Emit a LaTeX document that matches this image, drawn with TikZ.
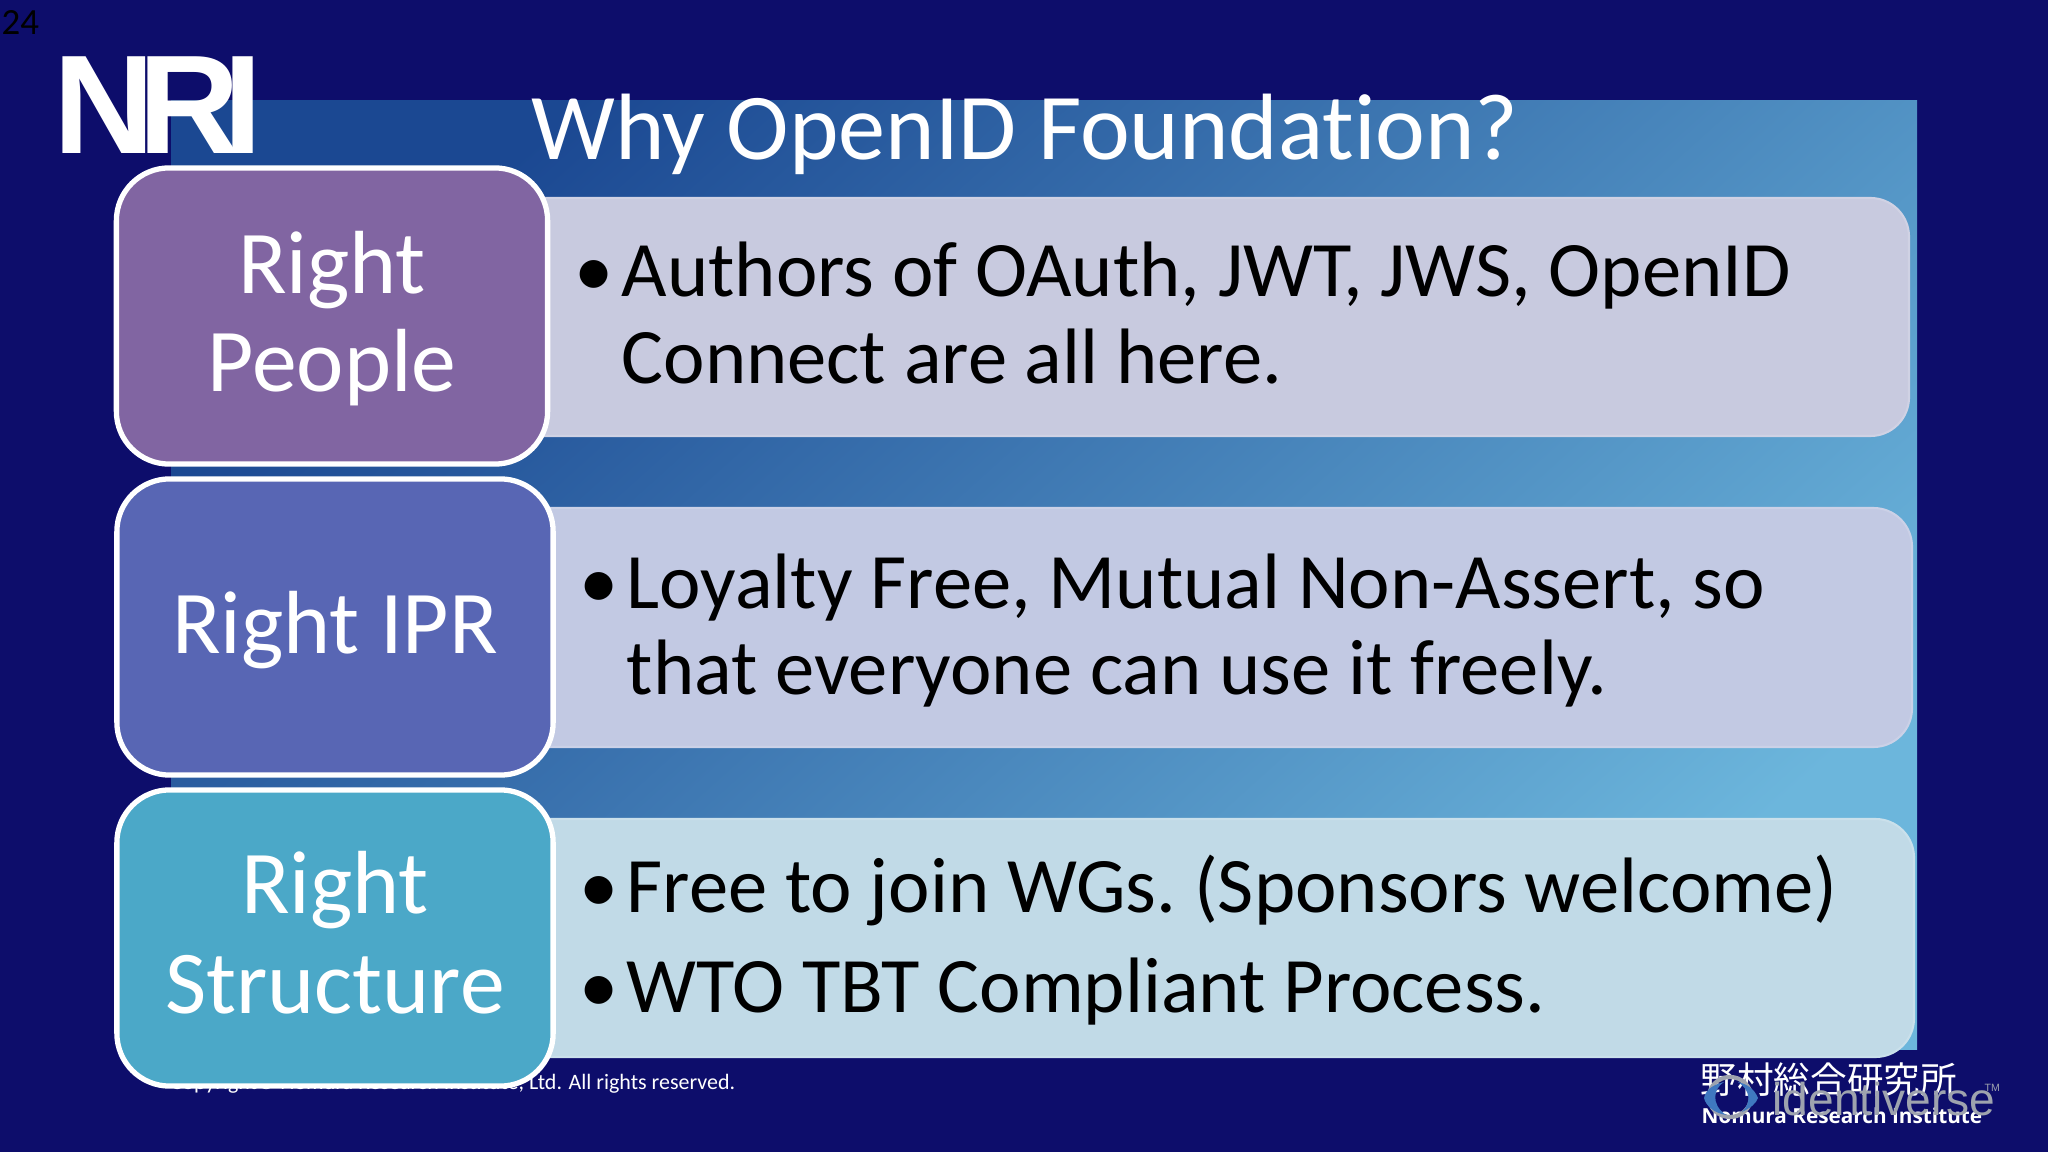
\documentclass[tikz,border=0pt]{standalone}
\usepackage{fontspec}
\setmainfont[Ligatures=NoCommon]{Carlito}
\newfontfamily\cjk{Noto Sans CJK JP}
\newfontfamily\logofont{Liberation Sans}
\newfontfamily\nrifont{Open Sans}
\usepackage{xcolor}
\definecolor{navy}{HTML}{0D0D6B}
\definecolor{bgleft}{HTML}{1B4892}
\definecolor{bgmid}{HTML}{3E7EBE}
\definecolor{bgright}{HTML}{6CB6DC}
\definecolor{peoplefill}{HTML}{8165A2}
\definecolor{iprfill}{HTML}{5866B4}
\definecolor{structfill}{HTML}{4BA8C8}
\definecolor{panelone}{HTML}{C8CADF}
\definecolor{paneltwo}{HTML}{C2C9E3}
\definecolor{panelthree}{HTML}{C1DAE7}
\definecolor{watermark}{HTML}{9EA3AE}
\definecolor{swoosh}{HTML}{3F78C0}
\tikzset{
  headbox/.style={draw=white,line width=1.5pt,rounded corners=15pt,align=center,text=white,inner sep=0pt,
    minimum height=2.96cm,font=\fontsize{25.5}{28}\selectfont},
  panel/.style={rounded corners=11pt,line width=.6pt},
  bodyline/.style={anchor=base west,inner sep=0pt,text=black,font=\fontsize{22.35}{26}\selectfont},
}
\begin{document}
\begin{tikzpicture}[x=0.01cm,y=-0.01cm]
  \useasboundingbox (0,0) rectangle (2048,1152);
  \fill[navy] (0,0) rectangle (2048,1152);
  \path[left color=bgleft,middle color=bgmid,right color=bgright,shading angle=42] (171,101) rectangle (1917,1049);

  \node (title) [anchor=base,inner sep=0pt,text=white,font=\fontsize{26.8}{30}\selectfont] at (1025,160) {Why OpenID Foundation?};
  \node (page) [anchor=base west,inner sep=0pt,text=black,font=\fontsize{10.5}{12}\selectfont] at (1,35) {24};
  \node (nri) [anchor=base west,inner sep=0pt,text=white,font=\fontsize{40}{40}\logofont\bfseries] at (53,154) {N\kern-.12em R\kern-.12em I};

  \node (copyright) [anchor=base west,inner sep=0pt,text=white,font=\fontsize{6.25}{7}\selectfont] at (170,1089) {Copyright© Nomura Research Institute, Ltd. All rights reserved.};

  % panels
  \fill[panel,panelone,draw=panelone!85!white] (480,198) -- (1909,198) -- (1909,436) -- (480,436) -- cycle;
  \fill[panel,paneltwo,draw=paneltwo!85!white] (480,508) -- (1912,508) -- (1912,747) -- (480,747) -- cycle;
  \fill[panel,panelthree,draw=panelthree!85!white] (480,819) -- (1914,819) -- (1914,1057) -- (480,1057) -- cycle;

  \node (people) [headbox,fill=peoplefill,minimum width=4.31cm] at (332,316) {\raisebox{0pt}[\dimexpr\height+1.5pt][\depth]{\shortstack{Right\\[3pt]People}}};
  \node (ipr) [headbox,fill=iprfill,minimum width=4.36cm] at (335,627) {\raisebox{0pt}[\dimexpr\height+1.5pt][\depth]{Right IPR}};
  \node (structure) [headbox,fill=structfill,minimum width=4.36cm] at (335,938) {\raisebox{0pt}[\height][\dimexpr\depth+3pt]{\shortstack{Right\\[4.3pt]Structure}}};

  \node (bulleta) [bodyline] at (574,297) {\textbullet};
  \node (linea) [bodyline] at (621,297) {Authors of OAuth, JWT, JWS, OpenID};
  \node (lineb) [bodyline] at (621,384) {Connect are all here.};
  \node (bulletb) [bodyline] at (579,608) {\textbullet};
  \node (linec) [bodyline] at (626,608) {Loyalty Free, Mutual Non-Assert, so};
  \node (lined) [bodyline] at (626,694) {that everyone can use it freely.};
  \node (bulletc) [bodyline] at (579,912) {\textbullet};
  \node (linee) [bodyline] at (626,912) {Free to join WGs.\ (Sponsors welcome)};
  \node (bulletd) [bodyline] at (579,1012) {\textbullet};
  \node (linef) [bodyline] at (626,1012) {WTO TBT Compliant Process.};

  \node (kanji) [anchor=base west,inner sep=0pt,text=white,font=\fontsize{10.4}{12}\cjk] at (1700,1093) {野村総合研究所};
  \node (nomura) [anchor=base west,inner sep=0pt,text=white,font=\fontsize{5.9}{7}\nrifont\bfseries] at (1701,1123) {Nomura Research Institute};

  % overlay
  \draw[watermark,line width=1.2pt] (1730,1097) ellipse (21 and 20);
  \fill[swoosh] (1704,1098) .. controls (1706,1088) and (1716,1084) .. (1724,1082) .. controls (1714,1088) and (1710,1104) .. (1726,1115) .. controls (1714,1113) and (1706,1106) .. (1704,1098) -- cycle;
  \fill[swoosh] (1758,1098) .. controls (1754,1088) and (1746,1084) .. (1738,1082) .. controls (1750,1090) and (1752,1102) .. (1742,1112) .. controls (1750,1108) and (1756,1104) .. (1758,1098) -- cycle;
  \node (identiverse) [anchor=base west,inner sep=0pt,text=watermark,font=\fontsize{13.1}{15}\logofont] at (1772,1115) {identiverse};
  \node (tm) [anchor=base west,inner sep=0pt,text=watermark,font=\fontsize{3}{4}\logofont] at (1984,1091) {TM};
\end{tikzpicture}
\end{document}
